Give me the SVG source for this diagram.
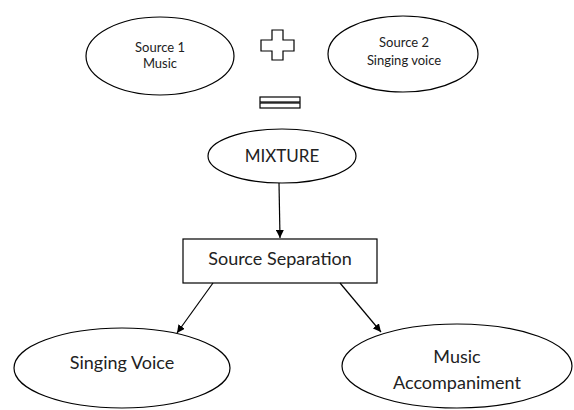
<svg xmlns="http://www.w3.org/2000/svg" width="574" height="410" viewBox="0 0 574 410">
  <style>
    .shape { fill: #ffffff; stroke: #000000; stroke-width: 1.2; }
    .lbl { font-family: Lato, "Liberation Sans", sans-serif; fill: #222222; text-anchor: middle; dominant-baseline: central; }
    .small { font-size: 13px; }
    .mid { font-size: 17px; }
    .big { font-size: 18px; }
    .edge { stroke: #000000; stroke-width: 1.2; fill: none; marker-end: url(#arrow); }
  </style>
  <defs>
    <marker id="arrow" viewBox="0 0 10 10" refX="10" refY="5" markerWidth="8" markerHeight="8" markerUnits="userSpaceOnUse" orient="auto">
      <path d="M0,0 L10,5 L0,10 Z" fill="#000000"/>
    </marker>
  </defs>
  <rect width="574" height="410" fill="#ffffff"/>

  <g id="source1">
    <ellipse class="shape" cx="160" cy="56" rx="74" ry="39"/>
    <text class="lbl small" x="160" y="47">Source 1</text>
    <text class="lbl small" x="160" y="63">Music</text>
  </g>

  <g id="plus">
    <path class="shape" d="M272,30 H283 V40 H294 V51 H283 V60 H272 V51 H261 V40 H272 Z"/>
  </g>

  <g id="source2">
    <ellipse class="shape" cx="403" cy="54" rx="75" ry="38"/>
    <text class="lbl small" x="404" y="42">Source 2</text>
    <text class="lbl small" x="404" y="60">Singing voice</text>
  </g>

  <g id="equals">
    <rect class="shape" x="260" y="97" width="40" height="5"/>
    <rect class="shape" x="260" y="103" width="40" height="5"/>
  </g>

  <g id="mixture">
    <ellipse class="shape" cx="282" cy="156" rx="74" ry="27"/>
    <text class="lbl mid" x="282" y="155">MIXTURE</text>
  </g>

  <g id="separation">
    <rect class="shape" x="183" y="239" width="194" height="44"/>
    <text class="lbl big" x="280" y="258">Source Separation</text>
  </g>

  <g id="singing">
    <ellipse class="shape" cx="122" cy="368" rx="108" ry="40"/>
    <text class="lbl big" x="122" y="362">Singing Voice</text>
  </g>

  <g id="accompaniment">
    <ellipse class="shape" cx="457" cy="366" rx="115" ry="42"/>
    <text class="lbl big" x="457" y="356">Music</text>
    <text class="lbl big" x="457" y="382">Accompaniment</text>
  </g>

  <g id="connectors">
    <line class="edge" x1="279" y1="183" x2="280" y2="238"/>
    <line class="edge" x1="213" y1="283" x2="177" y2="333"/>
    <line class="edge" x1="340" y1="283" x2="381" y2="332"/>
  </g>
</svg>
